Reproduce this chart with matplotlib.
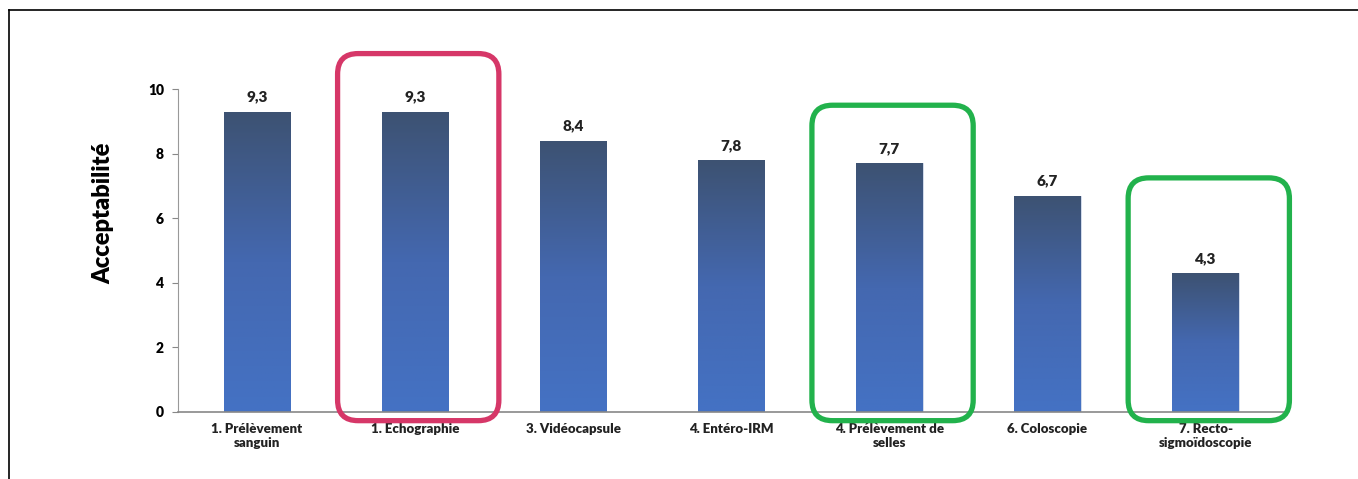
import numpy as np
import matplotlib.pyplot as plt
from matplotlib.colors import LinearSegmentedColormap
from matplotlib.patches import FancyBboxPatch
from matplotlib.lines import Line2D

plt.rcParams['font.family'] = ['Lato', 'DejaVu Sans']

categories = ["1. Prélèvement\nsanguin", "1. Echographie", "3. Vidéocapsule",
              "4. Entéro-IRM", "4. Prélèvement de\nselles", "6. Coloscopie",
              "7. Recto-\nsigmoïdoscopie"]
values = [9.3, 9.3, 8.4, 7.8, 7.7, 6.7, 4.3]
value_labels = ["9,3", "9,3", "8,4", "7,8", "7,7", "6,7", "4,3"]

# boxes: (bar index, top in data units, colour)
highlight_idx = [1, 4, 6]
highlight_top = [11.1, 9.5, 7.25]
highlight_col = ["#d63768", "#22b24c", "#22b24c"]

fig = plt.figure(figsize=(13.58, 4.79), dpi=100)
ax = fig.add_axes([0.131, 0.140, 0.815, 0.674])

x = np.arange(len(values))
bars = ax.bar(x, values, width=0.42, color='none', edgecolor='#c9d3e6', linewidth=0.6, zorder=2)

cmap = LinearSegmentedColormap.from_list('g', ['#4472c4', '#4468b0', '#3d5272'])
grad = np.linspace(0, 1, 256).reshape(-1, 1)
for b in bars:
    x0, w, h = b.get_x(), b.get_width(), b.get_height()
    im = ax.imshow(grad, cmap=cmap, aspect='auto', origin='lower',
                   extent=(x0, x0 + w, 0, h), zorder=2)
    im.set_clip_path(b)

for xi, v, lab in zip(x, values, value_labels):
    ax.text(xi, v + 0.25, lab, ha='center', va='bottom', fontsize=11, fontweight='heavy', color='#222222')

ax.set_xlim(-0.5, len(values) - 0.5)
ax.set_ylim(0, 10)
ax.set_yticks([0, 2, 4, 6, 8, 10])
ax.set_xticks(x)
ax.set_xticklabels(categories, fontsize=9.5, fontweight='heavy', color='#222222')
ax.tick_params(axis='x', length=0, pad=8)
ax.tick_params(axis='y', length=4, color='#888888', labelsize=10, pad=6)
for t in ax.get_yticklabels():
    t.set_fontweight('heavy')
ax.set_ylabel("Acceptabilité", fontsize=17, fontweight='heavy')
ax.yaxis.set_label_coords(-0.057, 0.615)

for s in ['top', 'right']:
    ax.spines[s].set_visible(False)
ax.spines['left'].set_color('#999999')
ax.spines['bottom'].set_color('#888888')
ax.spines['bottom'].set_linewidth(1.2)

# highlight boxes in data units; mutation_aspect keeps rounded corners circular
aspect = (0.815 * 13.58 / 7) / (0.674 * 4.79 / 10)
for i, top, c in zip(highlight_idx, highlight_top, highlight_col):
    box = FancyBboxPatch((i - 0.49, -0.27), 1.02, top + 0.27,
                         boxstyle="round,pad=0,rounding_size=0.13",
                         mutation_aspect=aspect, fill=False, edgecolor=c,
                         linewidth=3.8, clip_on=False, zorder=3)
    ax.add_patch(box)

# frame lines of the original figure
fig.add_artist(Line2D([9 / 1358, 1], [1 - 10 / 479, 1 - 10 / 479], color='black', lw=1.2))
fig.add_artist(Line2D([9 / 1358, 9 / 1358], [0, 1 - 10 / 479], color='black', lw=1.2))

fig.savefig('out.png', dpi=100)
